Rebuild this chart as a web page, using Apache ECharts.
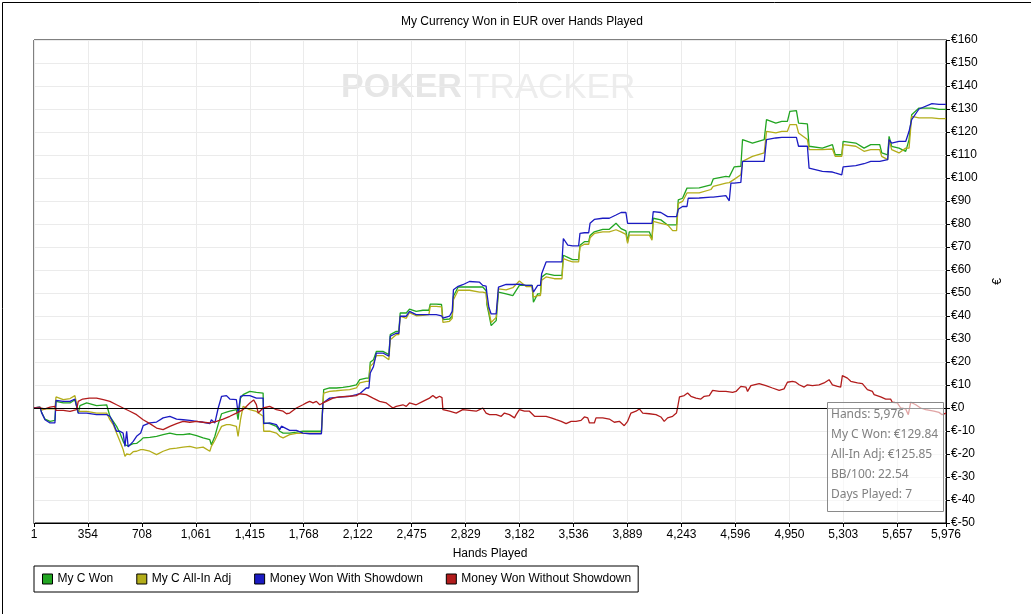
<!DOCTYPE html>
<html>
<head>
<meta charset="utf-8">
<script src="https://cdn.jsdelivr.net/npm/echarts@6/dist/echarts.min.js"></script>
<style>
html,body{margin:0;padding:0;background:#fff;}
#chart{width:1031px;height:614px;}
</style>
</head>
<body>
<div id="chart"></div>
<script>
var titleText = 'My Currency Won in EUR over Hands Played';
var seriesNames = ['My C Won', 'My C All-In Adj', 'Money Won With Showdown', 'Money Won Without Showdown'];
var xTicks = [1,354,708,1061,1415,1768,2122,2475,2829,3182,3536,3889,4243,4596,4950,5303,5657,5976];

var upperHands = [1,40,51,73,106,138,145,193,237,269,280,291,302,346,411,477,498,520,542,564,585,597,608,618,629,651,673,700,716,760,804,847,891,935,978,1022,1066,1109,1153,1163,1186,1208,1230,1262,1284,1327,1338,1354,1371,1415,1458,1502,1506,1545,1589,1611,1622,1633,1676,1720,1763,1807,1851,1884,1894,1899,1938,1982,2025,2069,2113,2135,2178,2195,2204,2225,2244,2287,2326,2335,2374,2391,2400,2440,2461,2505,2549,2588,2597,2636,2671,2680,2723,2741,2749,2780,2810,2854,2920,2941,2963,2968,2981,2996,3029,3035,3044,3094,3138,3181,3225,3264,3273,3301,3319,3327,3356,3410,3460,3469,3498,3530,3569,3578,3607,3635,3644,3672,3727,3770,3814,3847,3879,3890,3901,3967,4032,4050,4058,4108,4152,4185,4211,4222,4250,4279,4287,4359,4436,4451,4534,4556,4567,4588,4632,4643,4708,4785,4800,4861,4900,4937,4953,4996,5010,5068,5079,5166,5232,5250,5293,5302,5385,5439,5483,5542,5555,5594,5603,5620,5668,5712,5734,5751,5799,5884,5930,5976];

var myCWon = [0,0.4,-2.0,-4.8,-5.8,-5.4,2.9,2.2,2.2,3.6,2.9,-2.2,1.0,2.2,1.0,1.4,-3.6,-5.8,-8.0,-10.9,-14.5,-16.0,-16.7,-16.5,-16.2,-15.5,-15.4,-14.0,-13.0,-12.8,-12.3,-11.6,-10.9,-11.6,-11.6,-11.2,-12.0,-13.0,-13.8,-16.0,-12.3,-7.0,-2.5,-1.8,-1.4,-0.7,-5.1,4.3,5.8,7.2,6.8,6.5,-6.5,-6.8,-8.0,-10.1,-10.5,-10.9,-10.9,-10.5,-10.1,-10.1,-10.1,-10.1,2.2,8.0,8.7,8.7,9.0,9.4,10.1,12.3,13.0,13.0,19.9,21.0,24.6,24.6,23.2,31.9,33.3,33.3,41.3,41.3,43.0,42.0,42.5,42.5,45.2,45.2,45.0,38.4,38.7,40.0,48.6,52.6,52.6,52.6,52.6,52.6,51.0,45.0,40.9,35.8,38.0,38.0,50.4,49.6,48.9,53.3,53.3,53.3,46.0,49.6,49.6,56.9,58.4,57.7,57.7,66.4,65.5,64.5,64.5,70.8,72.3,72.3,75.0,76.6,77.7,77.7,80.3,78.0,77.0,72.3,76.6,76.6,76.6,73.7,82.5,81.8,79.6,79.6,79.6,90.5,91.2,95.6,96.0,95.7,97.0,99.6,100.7,100.5,101.0,104.8,105.1,116.7,115.2,116.7,125.4,123.9,124.6,124.6,129.0,129.3,123.9,123.5,113.8,113.0,114.5,110.1,110.1,115.9,115.2,113.0,114.5,114.5,110.9,110.1,118.1,113.8,113.0,111.6,116.7,127.5,130.4,130.4,129.8,129.84];

var allInAdj = [0,0.4,-0.9,-0.4,-0.4,-0.4,4.8,3.6,4.1,5.4,5.1,-1.5,-1.5,-1.5,-2.2,-2.2,-5.1,-7.2,-10.9,-14.5,-18.1,-21.0,-20.0,-19.5,-20.3,-19.0,-18.8,-18.1,-18.1,-18.8,-20.3,-18.8,-17.8,-17.4,-17.0,-16.7,-17.4,-17.0,-18.8,-16.7,-14.0,-10.9,-8.0,-7.2,-7.2,-8.0,-12.3,-5.1,0.7,-0.7,-1.5,-3.6,-10.1,-10.1,-10.9,-12.3,-13.0,-13.0,-11.6,-11.0,-11.0,-10.9,-10.9,-10.9,2.2,6.5,7.2,7.5,7.8,8.0,8.7,10.9,11.6,11.6,18.1,19.5,22.8,22.8,21.0,29.7,31.9,31.9,39.9,39.0,41.5,40.1,40.3,40.6,44.2,44.2,44.0,37.2,37.7,39.0,47.1,51.2,51.2,51.2,50.4,50.4,50.0,46.0,42.3,37.2,39.4,39.4,51.8,51.4,52.3,55.2,52.8,52.8,48.2,48.9,48.9,55.5,57.0,56.2,56.2,65.0,64.2,63.5,63.5,70.1,71.2,71.2,74.0,75.9,76.6,76.6,77.5,76.6,75.5,71.6,75.2,75.2,75.2,73.0,81.1,80.3,79.6,77.1,77.1,89.0,89.8,93.5,94.2,93.5,95.0,96.4,97.8,98.0,98.5,99.4,101.4,107.2,109.4,110.9,120.3,119.6,120.3,120.3,123.2,123.2,119.6,116.7,112.3,112.3,112.6,109.4,109.4,114.5,113.8,111.6,112.3,112.3,109.4,108.0,116.7,112.3,110.9,113.0,113.0,126.8,126.1,126.1,125.8,125.85];

var withShowdown = [0,0.4,-2.0,-5.1,-6.5,-6.5,3.3,2.9,2.9,3.9,3.3,-2.2,-2.2,-2.2,-2.9,-2.9,-3.6,-6.5,-10.1,-10.1,-10.9,-16.7,-10.1,-16.9,-17.1,-14.5,-12.3,-10.9,-7.7,-6.5,-6.1,-4.3,-3.6,-4.8,-5.1,-5.4,-5.8,-6.2,-6.8,-5.1,-6.5,0,5.1,5.4,3.9,3.6,-2.2,5.1,5.4,5.4,4.3,4.3,-6.8,-6.5,-7.2,-9.4,-7.9,-8.0,-9.7,-9.7,-10.9,-11.2,-11.2,-11.2,2.2,1.4,4.3,4.6,4.8,5.1,5.8,6.2,8.7,8.7,15.2,18.0,23.9,23.9,22.5,31.2,32.5,32.5,39.9,39.9,42.0,40.6,40.6,40.6,40.9,40.6,40.1,39.1,39.9,42.0,51.4,52.9,53.6,55.0,54.7,53.3,53.0,50.0,43.8,40.9,40.9,40.9,52.6,53.7,53.7,53.9,53.3,53.3,50.4,53.3,53.3,58.4,63.5,63.5,63.5,73.7,70.8,70.5,70.5,75.9,76.2,76.2,80.3,82.0,82.5,82.5,83.9,85.0,85.0,80.3,80.3,80.3,80.3,80.3,85.4,85.0,83.2,83.2,83.2,86.4,87.6,87.6,91.2,91.3,91.7,91.7,92.3,90.1,97.8,97.8,98.1,107.2,107.2,107.2,116.7,117.4,117.7,117.7,117.7,117.7,113.8,113.8,104.3,102.9,102.6,102.2,101.4,104.8,105.4,106.2,107.2,107.2,107.2,108.0,116.7,115.2,115.9,115.9,120.3,125.4,130.0,132.3,132.0,132.0];

var redHands = [1,40,51,73,106,138,145,193,237,280,291,320,364,411,455,498,542,585,629,673,716,760,804,847,891,935,978,1022,1066,1109,1153,1196,1240,1284,1327,1371,1415,1440,1458,1470,1502,1545,1589,1633,1655,1676,1720,1763,1785,1807,1829,1851,1873,1894,1916,1960,2003,2069,2113,2135,2178,2222,2265,2309,2352,2374,2418,2440,2461,2505,2549,2592,2614,2636,2658,2674,2680,2723,2767,2810,2854,2898,2920,2941,2963,2985,3029,3062,3083,3116,3149,3160,3181,3214,3247,3280,3313,3356,3389,3422,3455,3487,3520,3552,3585,3607,3629,3640,3672,3683,3727,3770,3803,3836,3868,3890,3912,3945,3967,3989,4032,4076,4108,4130,4152,4185,4210,4217,4230,4261,4283,4305,4338,4370,4392,4425,4447,4490,4534,4578,4600,4632,4665,4676,4698,4752,4796,4839,4883,4915,4937,4970,4992,5014,5047,5068,5101,5144,5177,5210,5232,5265,5286,5297,5330,5352,5396,5428,5461,5494,5505,5548,5581,5613,5624,5657,5679,5712,5729,5745,5778,5810,5843,5897,5930,5951,5976];

var withoutShowdown = [0,0,-0.7,-0.4,0.4,0.7,-1.0,-1.0,-1.5,-0.7,2.9,3.9,4.3,4.3,3.6,2.9,1.4,0,-1.4,-2.9,-5.1,-6.8,-8.7,-9.4,-8.0,-6.8,-5.8,-6.2,-5.8,-6.2,-6.5,-5.8,-4.8,-3.6,-2.2,-0.7,2.2,3.5,1.5,-2.2,0,0.7,-0.7,-1.4,-2.5,-2.2,0,1.4,2.2,2.9,2.2,2.9,1.4,2.2,2.9,4.3,4.8,5.1,5.4,6.2,5.8,4.3,2.9,2.2,0,0.7,1.4,0.7,2.2,1.4,2.9,4.3,5.4,4.3,5.1,4.5,-0.7,-1.4,-2.2,-0.7,-1.0,-1.4,-0.7,0,-2.2,-2.9,-2.9,-3.6,-2.2,-2.9,-4.3,-2.9,-0.7,-1.4,-1.4,-3.6,-3.6,-3.6,-4.3,-5.1,-5.8,-6.8,-5.8,-5.8,-5.4,-3.9,-4.3,-6.5,-6.5,-4.3,-4.3,-4.8,-6.2,-5.8,-7.7,-5.8,-2.2,-1.4,-0.4,-2.2,-2.5,-2.9,-3.9,-5.8,-4.3,-3.6,-2.2,0,4.8,5.4,6.5,5.1,4.3,3.9,5.1,5.4,7.7,7.2,7.2,6.8,7.2,9.4,9.1,7.2,9.7,10.6,9.7,8.7,7.7,8.3,11.2,11.6,11.2,10.1,9.1,10.1,9.7,10.1,10.9,12.3,10.1,9.4,9.1,14.1,13.0,11.6,10.9,10.6,8.0,7.2,5.8,4.8,3.9,3.9,2.5,2.2,0,-0.4,-2.9,2.5,1.4,0,-0.7,-1.4,-1.9,-2.9,-2.2];

var tooltipLines = ['Hands: 5,976', 'My C Won: \u20ac129.84', 'All-In Adj: \u20ac125.85', 'BB/100: 22.54', 'Days Played: 7'];
var colors = ['#22a522', '#b3ad1a', '#1b1bc2', '#b21c1c'];

function pairs(xs, ys) { return xs.map(function (x, i) { return [x, ys[i]]; }); }

var chart = echarts.init(document.getElementById('chart'));
var FONT = 'Liberation Sans, Arial, sans-serif';

var lineSeries = [
  { name: seriesNames[0], data: pairs(upperHands, myCWon) },
  { name: seriesNames[1], data: pairs(upperHands, allInAdj) },
  { name: seriesNames[2], data: pairs(upperHands, withShowdown) },
  { name: seriesNames[3], data: pairs(redHands, withoutShowdown) }
].map(function (s, i) {
  var o = {
    name: s.name, type: 'line', data: s.data, showSymbol: false, symbol: 'none',
    lineStyle: { width: 1.3, color: colors[i] }, itemStyle: { color: colors[i] },
    animation: false, z: 3
  };
  if (i === 3) {
    o.markLine = {
      silent: true, symbol: 'none', label: { show: false },
      lineStyle: { color: '#000', width: 1, type: 'solid' },
      data: [{ yAxis: 0 }], animation: false
    };
  }
  return o;
});

var tipGraphics = tooltipLines.map(function (t, i) {
  return { type: 'text', left: 831, top: 409 + i * 20, z: 20,
    style: { text: t, fill: '#808080', font: '12px "Noto Sans", sans-serif' } };
});

chart.setOption({
  backgroundColor: '#fff',
  animation: false,
  color: colors,
  grid: { left: 34, right: 85, top: 40, bottom: 91, show: true, borderColor: '#000', borderWidth: 1, backgroundColor: 'transparent' },
  xAxis: {
    type: 'value', min: 1, max: 5976,
    name: 'Hands Played', nameLocation: 'middle', nameGap: 25,
    nameTextStyle: { color: '#000', fontSize: 12, fontFamily: FONT },
    axisLine: { show: true, onZero: false, lineStyle: { color: '#000' } },
    axisTick: { show: true, length: 4, customValues: xTicks, lineStyle: { color: '#000' } },
    axisLabel: { customValues: xTicks, color: '#000', fontSize: 12, fontFamily: FONT, margin: 6,
      formatter: function (v) { return Number(v).toLocaleString('en-US'); } },
    splitLine: { show: true, lineStyle: { color: '#ebebeb', width: 1 } }
  },
  yAxis: {
    type: 'value', position: 'right', min: -50, max: 160, interval: 10,
    name: '\u20ac', nameLocation: 'middle', nameGap: 46, nameRotate: 90,
    nameTextStyle: { color: '#000', fontSize: 12, fontFamily: FONT },
    axisLine: { show: true, lineStyle: { color: '#000' } },
    axisTick: { show: true, length: 4, lineStyle: { color: '#000' } },
    axisLabel: { color: '#000', fontSize: 12, fontFamily: FONT, margin: 5,
      formatter: function (v) { return '\u20ac' + v; } },
    splitLine: { show: true, lineStyle: { color: '#ebebeb', width: 1 } }
  },
  legend: {
    left: 34, top: 566, orient: 'horizontal',
    data: seriesNames,
    icon: 'rect', itemWidth: 10, itemHeight: 10, itemGap: 23,
    padding: [7, 7, 7, 8],
    borderColor: '#000', borderWidth: 1,
    itemStyle: { borderColor: '#000', borderWidth: 1 },
    textStyle: { color: '#000', fontSize: 12, fontFamily: FONT }
  },
  graphic: [
    { type: 'rect', left: 0, top: 0, z: 0, silent: true,
      shape: { x: 0.5, y: 0.5, width: 1030, height: 613 },
      style: { fill: 'none', stroke: '#000', lineWidth: 1 } },
    { type: 'text', left: 401, top: 16, z: 10,
      style: { text: titleText, fill: '#000', font: '12px "Liberation Sans", Arial, sans-serif' } },
    { type: 'text', left: 341, top: 71, z: 0,
      style: { text: 'POKER', fill: '#e6e6e6', font: 'bold 34px "Liberation Sans", Arial, sans-serif' } },
    { type: 'text', left: 468, top: 71, z: 0,
      style: { text: 'TRACKER', fill: '#ededed', font: '35px "Liberation Sans", Arial, sans-serif' } },
    { type: 'rect', left: 827, top: 402, z: 19,
      shape: { x: 0.5, y: 0.5, width: 116, height: 109 },
      style: { fill: 'rgba(255,255,255,0.6)', stroke: '#8a8a8a', lineWidth: 1 } }
  ].concat(tipGraphics),
  series: lineSeries
});
</script>
</body>
</html>
